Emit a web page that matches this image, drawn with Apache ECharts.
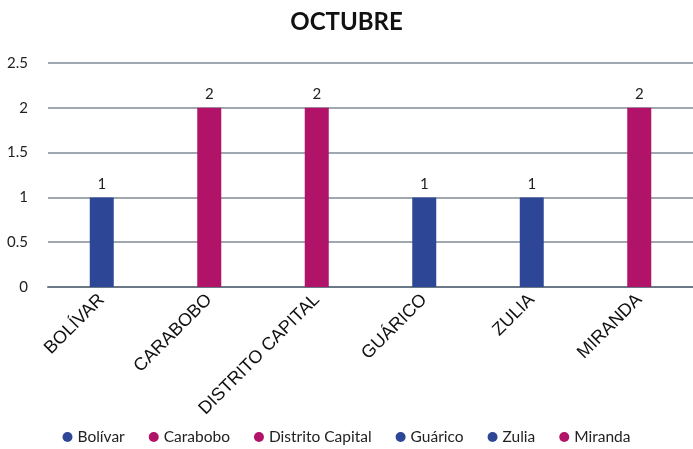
<!DOCTYPE html>
<html>
<head>
<meta charset="utf-8">
<script src="https://cdn.jsdelivr.net/npm/echarts@6/dist/echarts.min.js"></script>
<style>
  html, body { margin: 0; padding: 0; background: #fff; }
  #main { width: 693px; height: 449px; }
</style>
</head>
<body>
<div id="main"></div>
<script>
var categories = ['BOLÍVAR', 'CARABOBO', 'DISTRITO CAPITAL', 'GUÁRICO', 'ZULIA', 'MIRANDA'];
var seriesNames = ['Bolívar', 'Carabobo', 'Distrito Capital', 'Guárico', 'Zulia', 'Miranda'];
var values = [1, 2, 2, 1, 1, 2];
var colors = ['#2e4696', '#b01368', '#b01368', '#2e4696', '#2e4696', '#b01368'];

var myChart = echarts.init(document.getElementById('main'));

// one series per state, each only filled at its own category
var series = seriesNames.map(function (name, i) {
  var data = categories.map(function (c, j) { return j === i ? values[i] : '-'; });
  return {
    name: name,
    type: 'bar',
    stack: 'all',
    barWidth: 24,
    data: data,
    itemStyle: { color: colors[i] },
    label: {
      show: true,
      position: 'top',
      distance: 6,
      color: '#222',
      fontSize: 15,
      fontFamily: 'Lato'
    }
  };
});

var option = {
  backgroundColor: '#fff',
  title: {
    text: 'OCTUBRE',
    left: 'center',
    top: 5,
    textStyle: { fontSize: 24, fontWeight: 'bold', color: '#111', fontFamily: 'Lato' }
  },
  grid: { left: 48, right: 0, top: 63, bottom: 162 },
  legend: {
    bottom: -1,
    left: 'center',
    icon: 'circle',
    itemWidth: 10,
    itemHeight: 10,
    itemGap: 24,
    textStyle: { fontSize: 15.5, color: '#222', fontFamily: 'Lato' },
    data: seriesNames
  },
  xAxis: {
    type: 'category',
    data: categories,
    axisTick: { show: false },
    axisLine: { lineStyle: { color: '#6b7885', width: 2 } },
    axisLabel: {
      rotate: 45,
      interval: 0,
      margin: 10,
      fontSize: 18,
      color: '#111',
      fontFamily: 'Liberation Sans'
    }
  },
  yAxis: {
    type: 'value',
    min: 0,
    max: 2.5,
    interval: 0.5,
    axisLine: { show: false },
    axisTick: { show: false },
    axisLabel: { fontSize: 15, color: '#222', margin: 20, fontFamily: 'Lato' },
    splitLine: { lineStyle: { color: '#7f8b96', width: 1.5 } }
  },
  series: series
};
myChart.setOption(option);

window.addEventListener('resize', function(){
  myChart.resize()
})
</script>
</body>
</html>
